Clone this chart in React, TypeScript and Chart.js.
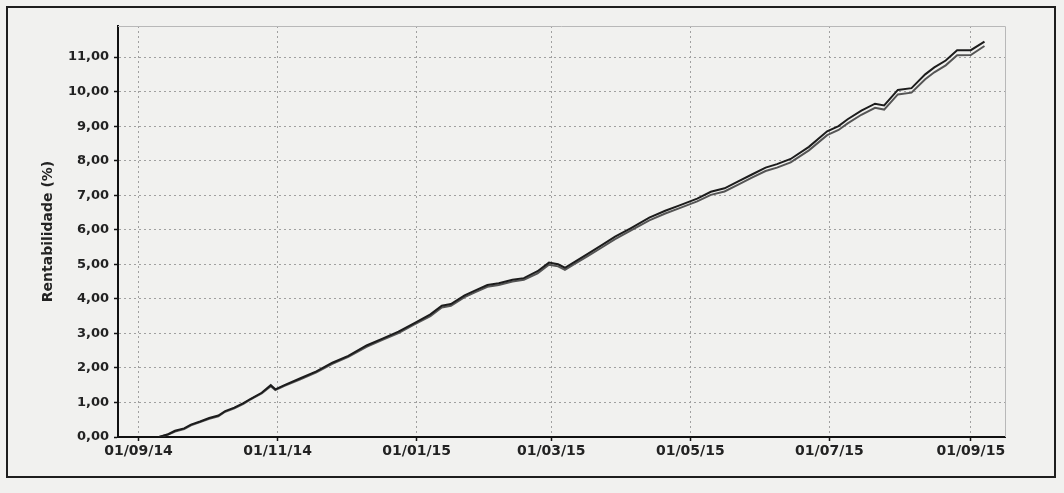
import React, { useEffect, useRef } from "react";
import { Chart, registerables } from "chart.js";

Chart.register(...registerables);

const dates = [
  "2014-09-10", "2014-09-14", "2014-09-17", "2014-09-21", "2014-09-24", "2014-09-28",
  "2014-10-02", "2014-10-06", "2014-10-09", "2014-10-13", "2014-10-17", "2014-10-20",
  "2014-10-25", "2014-10-29", "2014-10-31", "2014-11-04", "2014-11-11", "2014-11-18",
  "2014-11-25", "2014-12-02", "2014-12-10", "2014-12-17", "2014-12-24", "2014-12-31",
  "2015-01-07", "2015-01-12", "2015-01-16", "2015-01-22", "2015-01-27", "2015-02-01",
  "2015-02-06", "2015-02-12", "2015-02-17", "2015-02-23", "2015-02-28", "2015-03-04",
  "2015-03-07", "2015-03-12", "2015-03-17", "2015-03-23", "2015-03-29", "2015-04-05",
  "2015-04-13", "2015-04-20", "2015-04-26", "2015-05-04", "2015-05-10", "2015-05-16",
  "2015-05-22", "2015-05-28", "2015-06-03", "2015-06-08", "2015-06-14", "2015-06-22",
  "2015-06-30", "2015-07-05", "2015-07-09", "2015-07-15", "2015-07-21", "2015-07-25",
  "2015-07-31", "2015-08-06", "2015-08-12", "2015-08-16", "2015-08-21", "2015-08-26",
  "2015-09-01", "2015-09-07",
];

const seriesA = [
  0.0, 0.08, 0.18, 0.25, 0.36, 0.45,
  0.55, 0.62, 0.75, 0.85, 0.98, 1.1,
  1.28, 1.5, 1.38, 1.5, 1.7, 1.9,
  2.15, 2.35, 2.65, 2.85, 3.05, 3.3,
  3.55, 3.8, 3.85, 4.1, 4.25, 4.4,
  4.45, 4.55, 4.6, 4.8, 5.05, 5.0,
  4.9, 5.1, 5.3, 5.55, 5.8, 6.05,
  6.35, 6.55, 6.7, 6.9, 7.1, 7.2,
  7.4, 7.6, 7.8, 7.9, 8.05, 8.4,
  8.85, 9.0, 9.2, 9.45, 9.65, 9.6,
  10.05, 10.1, 10.5, 10.7, 10.9, 11.2,
  11.2, 11.45,
];

const seriesB = [
  0.0, 0.07, 0.16, 0.23, 0.34, 0.43,
  0.53, 0.6, 0.73, 0.83, 0.96, 1.08,
  1.26, 1.47, 1.36, 1.48, 1.67, 1.87,
  2.12, 2.32, 2.61, 2.81, 3.01, 3.26,
  3.5, 3.75, 3.8, 4.05, 4.2, 4.35,
  4.4, 4.5, 4.55, 4.74, 4.99, 4.94,
  4.84, 5.04, 5.24, 5.48, 5.73, 5.98,
  6.27, 6.47, 6.62, 6.82, 7.01, 7.11,
  7.31, 7.51, 7.7, 7.8, 7.95, 8.3,
  8.74, 8.89, 9.08, 9.33, 9.53, 9.48,
  9.92, 9.97, 10.36, 10.56, 10.76, 11.05,
  11.06, 11.32,
];

const xTickDates = ["2014-09-01", "2014-11-01", "2015-01-01", "2015-03-01", "2015-05-01", "2015-07-01", "2015-09-01"];
const xTickLabels = ["01/09/14", "01/11/14", "01/01/15", "01/03/15", "01/05/15", "01/07/15", "01/09/15"];
const yTicks = [0, 1, 2, 3, 4, 5, 6, 7, 8, 9, 10, 11];
const xRange = ["2014-08-23", "2015-09-16"];
const yMax = 11.9;
const yTitle = "Rentabilidade (%)";

const toDay = (s: string) => Date.parse(s + "T00:00:00Z") / 86400000;

const plotFrame = {
  id: "plotFrame",
  beforeDatasetsDraw(chart: any) {
    const { ctx, chartArea } = chart;
    ctx.save();
    ctx.strokeStyle = "#b8b8b8";
    ctx.lineWidth = 1;
    ctx.beginPath();
    ctx.moveTo(chartArea.left, chartArea.top + 0.5);
    ctx.lineTo(chartArea.right + 0.5, chartArea.top + 0.5);
    ctx.lineTo(chartArea.right + 0.5, chartArea.bottom);
    ctx.stroke();
    ctx.restore();
  },
};

export default function App() {
  const ref = useRef<HTMLCanvasElement>(null);
  useEffect(() => {
    document.body.style.margin = "0";
    document.body.style.background = "#f1f1ef";
    const font = "'DejaVu Sans', sans-serif";
    const chart = new Chart(ref.current!, {
      type: "line",
      data: {
        datasets: [
          {
            label: "A",
            data: dates.map((d, i) => ({ x: toDay(d), y: seriesA[i] })),
            borderColor: "#1c1c1c",
            borderWidth: 2,
            pointRadius: 0,
            tension: 0,
          },
          {
            label: "B",
            data: dates.map((d, i) => ({ x: toDay(d), y: seriesB[i] })),
            borderColor: "#555555",
            borderWidth: 2,
            pointRadius: 0,
            tension: 0,
          },
        ],
      },
      options: {
        animation: false,
        responsive: false,
        layout: { padding: { left: 0, top: 26, right: 59, bottom: 0 } },
        plugins: { legend: { display: false }, tooltip: { enabled: false } },
        scales: {
          x: {
            type: "linear",
            min: toDay(xRange[0]),
            max: toDay(xRange[1]),
            afterBuildTicks: (scale: any) => {
              scale.ticks = xTickDates.map((d) => ({ value: toDay(d) }));
            },
            afterFit: (scale: any) => {
              scale.height = 56;
            },
            ticks: {
              autoSkip: false,
              maxRotation: 0,
              padding: 2,
              color: "#222",
              font: { family: font, size: 14, weight: "bold" },
              callback: (_v: any, i: number) => xTickLabels[i],
            },
            grid: {
              color: "#a0a0a0",
              lineWidth: 1,
              tickLength: 4,
              tickColor: "#111",
              tickWidth: 1.5,
              tickBorderDash: [],
            } as any,
            border: { color: "#111", width: 2, dash: [2, 3] } as any,
          },
          y: {
            type: "linear",
            min: 0,
            max: yMax,
            afterBuildTicks: (scale: any) => {
              scale.ticks = yTicks.map((v) => ({ value: v }));
            },
            afterFit: (scale: any) => {
              scale.width = 118;
            },
            ticks: {
              autoSkip: false,
              padding: 5,
              color: "#222",
              font: { family: font, size: 13, weight: "bold" },
              callback: (v: any) => Number(v).toFixed(2).replace(".", ","),
            },
            grid: {
              color: "#a0a0a0",
              lineWidth: 1,
              tickLength: 4,
              tickColor: "#111",
              tickWidth: 1.5,
              tickBorderDash: [],
            } as any,
            border: { color: "#111", width: 2, dash: [2, 3] } as any,
            title: {
              display: true,
              text: yTitle,
              color: "#222",
              font: { family: font, size: 14, weight: "bold" },
              padding: { top: 40, bottom: 0 },
            },
          },
        },
      } as any,
      plugins: [plotFrame],
    });
    return () => chart.destroy();
  }, []);

  return (
    <div style={{ position: "relative", width: 1064, height: 493, background: "#f1f1ef" }}>
      <div
        style={{
          position: "absolute",
          left: 6,
          top: 6,
          width: 1050,
          height: 472,
          border: "2px solid #1e1e1e",
          boxSizing: "border-box",
        }}
      />
      <canvas ref={ref} width={1064} height={493} style={{ position: "absolute", left: 0, top: 0 }} />
    </div>
  );
}
